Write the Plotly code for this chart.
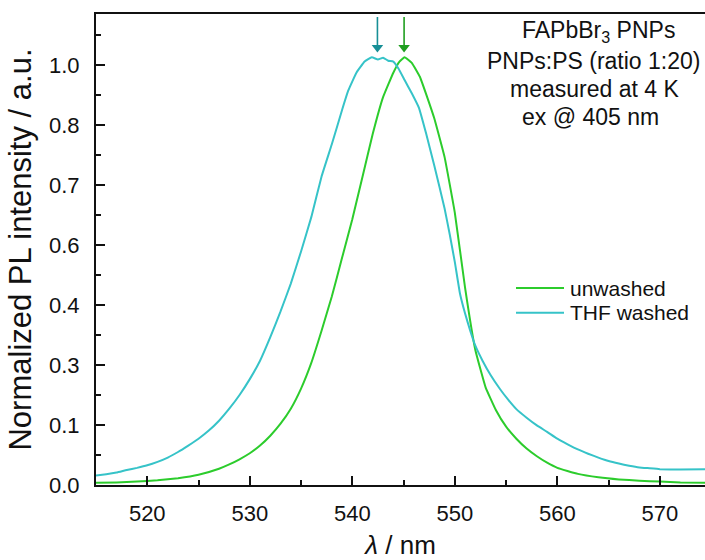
import plotly.graph_objects as go

# ---- data ----
wl_unwashed = [515, 517, 519, 521, 523, 525, 527, 528, 529, 530, 531, 532, 533, 534, 535,
               536, 537, 538, 539, 540, 541, 542, 543, 544, 544.6, 545.1, 545.8, 546.6,
               547.2, 548, 549, 550, 551, 552, 553, 554, 555, 556, 557, 558, 559, 560,
               562, 564, 566, 568, 570, 572, 574.5]
pl_unwashed = [0.005, 0.006, 0.008, 0.011, 0.016, 0.024, 0.038, 0.048, 0.060, 0.074, 0.092,
               0.115, 0.143, 0.178, 0.225, 0.285, 0.36, 0.44, 0.53, 0.620, 0.72, 0.82,
               0.905, 0.962, 0.988, 0.998, 0.985, 0.952, 0.912, 0.855, 0.765, 0.635, 0.46,
               0.315, 0.228, 0.175, 0.136, 0.108, 0.085, 0.067, 0.052, 0.040, 0.026, 0.018,
               0.013, 0.010, 0.008, 0.006, 0.005]

wl_thf = [515, 516, 517, 518, 519, 520, 521, 522, 523, 524, 525, 526, 527, 528, 529, 530,
          531, 532, 533, 534, 535, 536, 537, 538, 539, 539.6, 540.4, 541.2, 541.9, 542.5,
          543.0, 543.5, 544.0, 544.5, 545.1, 545.8, 546.5, 547.2, 548, 549, 549.5, 550,
          550.5, 551, 551.5, 552, 552.7, 553.5, 554.4, 555.2, 556, 557, 558, 559, 560,
          561, 562, 563, 564, 565, 566, 567, 568, 569, 570, 572, 574.5]
pl_thf = [0.022, 0.025, 0.029, 0.035, 0.040, 0.046, 0.054, 0.064, 0.077, 0.092, 0.108,
          0.127, 0.150, 0.178, 0.210, 0.247, 0.290, 0.345, 0.405, 0.47, 0.545, 0.625, 0.72,
          0.795, 0.875, 0.92, 0.962, 0.988, 0.998, 0.993, 0.997, 0.99, 0.988, 0.972,
          0.945, 0.914, 0.88, 0.82, 0.745, 0.645, 0.585, 0.52, 0.447, 0.40, 0.36, 0.325,
          0.290, 0.256, 0.224, 0.199, 0.177, 0.157, 0.139, 0.124, 0.108, 0.095, 0.083,
          0.073, 0.064, 0.056, 0.050, 0.045, 0.041, 0.039, 0.037, 0.036, 0.037]

peak_unwashed = 545.05
peak_thf = 542.45
arrow_top = 1.092
arrow_head = 1.021

y_tickvals = [0, 0.14, 0.28, 0.42, 0.56, 0.70, 0.84, 0.98]
y_ticktext = ["0.0", "0.1", "0.3", "0.4", "0.6", "0.7", "0.8", "1.0"]
y_minorvals = [0.07, 0.21, 0.35, 0.49, 0.63, 0.77, 0.91, 1.05]

series_names = ["unwashed", "THF washed"]
info_lines = ["FAPbBr<sub>3</sub> PNPs", "PNPs:PS (ratio 1:20)", "measured at 4 K", "ex @ 405 nm"]

# ---- styling ----
GREEN = "#2ccc2c"
TEAL = "#36c3c8"
GREEN_ARROW = "#1f9e1f"
TEAL_ARROW = "#178f96"
FONT = "Liberation Sans, Arial, sans-serif"
INK = "#111"

# pixel helpers for layout placement (plot area: x 96..705, y 14..485)
def px_x(p):
    return (p - 96) / 609

def px_y(p):
    return (485 - p) / 471

fig = go.Figure()
fig.add_trace(go.Scatter(x=wl_unwashed, y=pl_unwashed, mode="lines", name=series_names[0],
                         showlegend=False,
                         line=dict(color=GREEN, width=2, shape="spline", smoothing=0.3)))
fig.add_trace(go.Scatter(x=wl_thf, y=pl_thf, mode="lines", name=series_names[1],
                         showlegend=False,
                         line=dict(color=TEAL, width=2, shape="spline", smoothing=0.3)))

# peak arrows (shaft + triangular head)
for pk, col in [(peak_thf, TEAL_ARROW), (peak_unwashed, GREEN_ARROW)]:
    fig.add_trace(go.Scatter(x=[pk, pk], y=[arrow_top, arrow_head], mode="lines",
                             line=dict(color=col, width=1.6), showlegend=False,
                             hoverinfo="skip"))
    fig.add_trace(go.Scatter(x=[pk], y=[arrow_head], mode="markers", showlegend=False,
                             marker=dict(symbol="triangle-down", size=10, color=col),
                             hoverinfo="skip"))

# info text block
info_x = [598, 593, 594, 590]
info_y = [31.5, 61, 89.5, 117.5]
for t, xc, yc in zip(info_lines, info_x, info_y):
    fig.add_annotation(x=px_x(xc), y=px_y(yc), xref="paper", yref="paper",
                       text=t, showarrow=False, xanchor="center", yanchor="middle",
                       font=dict(size=23, color=INK, family=FONT))

# legend (drawn by hand for exact spacing)
leg_y = [288, 312.7]
for name, col, ly in zip(series_names, [GREEN, TEAL], leg_y):
    fig.add_shape(type="line", xref="paper", yref="paper",
                  x0=px_x(516), x1=px_x(564), y0=px_y(ly), y1=px_y(ly),
                  line=dict(color=col, width=2))
    fig.add_annotation(x=px_x(568), y=px_y(ly), xref="paper", yref="paper", text=name,
                       showarrow=False, xanchor="left", yanchor="middle",
                       font=dict(size=21, color=INK, family=FONT))

fig.update_layout(
    width=705, height=560,
    margin=dict(l=96, r=0, t=14, b=75),
    paper_bgcolor="white", plot_bgcolor="white",
    font=dict(family=FONT, color=INK),
    showlegend=False,
    xaxis=dict(range=[515, 574.4], tickmode="linear", tick0=520, dtick=10,
               ticks="inside", ticklen=9, tickwidth=2, tickcolor=INK,
               showline=True, linewidth=2, linecolor=INK, mirror=True,
               showgrid=False, zeroline=False,
               tickfont=dict(size=22, color=INK), ticklabelstandoff=8,
               minor=dict(ticks="inside", ticklen=5, tickwidth=2, tickcolor=INK,
                          dtick=5, tick0=515, showgrid=False),
               title=dict(text="<i>λ</i> / nm", font=dict(size=26, color=INK), standoff=16)),
    yaxis=dict(range=[0, 1.099], tickmode="array", tickvals=y_tickvals, ticktext=y_ticktext,
               ticks="inside", ticklen=9, tickwidth=2, tickcolor=INK,
               showline=True, linewidth=2, linecolor=INK, mirror=False,
               showgrid=False, zeroline=False,
               tickfont=dict(size=22, color=INK), ticklabelstandoff=10,
               minor=dict(ticks="inside", ticklen=5, tickwidth=2, tickcolor=INK,
                          tickvals=y_minorvals, showgrid=False),
               title=dict(text="Normalized PL intensity / a.u.", font=dict(size=31, color=INK),
                          standoff=8)),
)

fig.write_html("out.html")
